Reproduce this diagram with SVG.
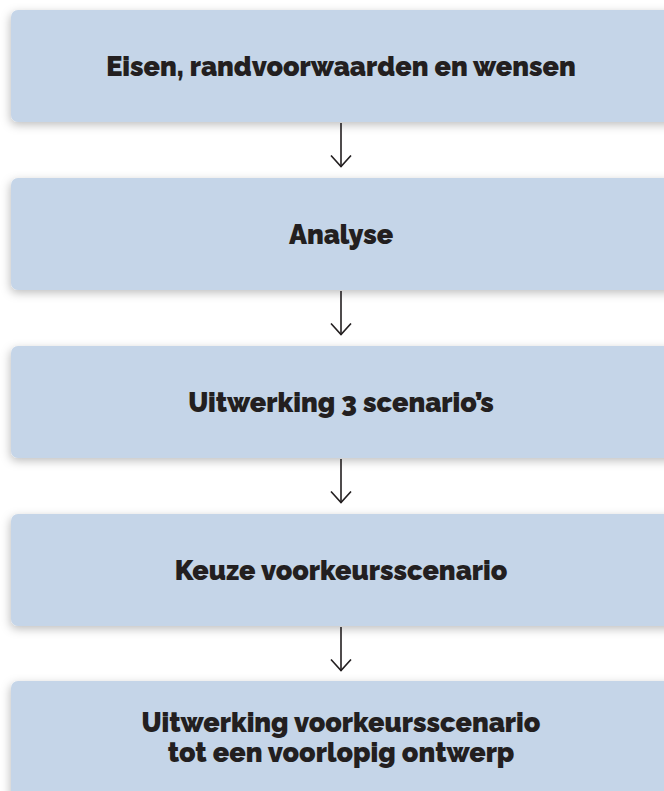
<svg xmlns="http://www.w3.org/2000/svg" width="664" height="791" viewBox="0 0 664 791">
<style>
.box{fill:#c5d5e8;filter:url(#sh)}
.t{font-family:Raleway,"Lato","Liberation Sans",sans-serif;font-weight:900;font-size:27px;fill:#231f20;text-anchor:middle}
.c{stroke:#231f20;stroke-width:1.6;fill:none}
</style>
<defs>
<filter id="sh" x="-10%" y="-30%" width="130%" height="160%">
<feDropShadow dx="-1" dy="3" stdDeviation="5" flood-color="#000" flood-opacity="0.25"/>
</filter>
<marker id="ah" viewBox="0 0 14 22" refX="12.5" refY="11" markerWidth="14" markerHeight="22" markerUnits="userSpaceOnUse" orient="auto">
<path d="M1,1 L12,11 L1,21" fill="none" stroke="#231f20" stroke-width="1.6"/>
</marker>
</defs>
<g id="n1"><rect class="box" x="11" y="10" width="680" height="112" rx="7"/><text class="t" x="341" y="76">Eisen, randvoorwaarden en wensen</text></g>
<g id="n2"><rect class="box" x="11" y="178" width="680" height="112" rx="7"/><text class="t" x="341" y="244">Analyse</text></g>
<g id="n3"><rect class="box" x="11" y="346" width="680" height="112" rx="7"/><text class="t" x="341" y="412">Uitwerking 3 scenario’s</text></g>
<g id="n4"><rect class="box" x="11" y="514" width="680" height="112" rx="7"/><text class="t" x="341" y="580">Keuze voorkeursscenario</text></g>
<g id="n5"><rect class="box" x="11" y="681" width="680" height="130" rx="7"/><text class="t" x="341" y="732">Uitwerking voorkeursscenario</text><text class="t" x="341" y="762">tot een voorlopig ontwerp</text></g>
<g id="connectors">
<line class="c" x1="341" y1="123" x2="341" y2="167" marker-end="url(#ah)"/>
<line class="c" x1="341" y1="291" x2="341" y2="335" marker-end="url(#ah)"/>
<line class="c" x1="341" y1="459" x2="341" y2="503" marker-end="url(#ah)"/>
<line class="c" x1="341" y1="627" x2="341" y2="671" marker-end="url(#ah)"/>
</g>
</svg>
